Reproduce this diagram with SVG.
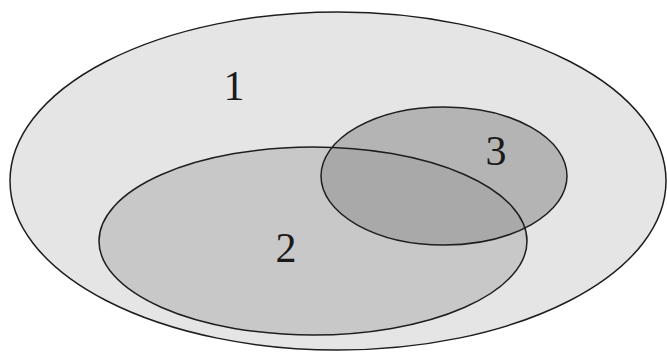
<svg xmlns="http://www.w3.org/2000/svg" width="667" height="352" viewBox="0 0 667 352">
<style>
.outline{fill:none;stroke:#1e1e1e;stroke-width:1.5}
.lbl{font-family:"Liberation Serif",serif;font-size:42px;fill:#1a1a1a;text-anchor:middle}
</style>
<defs>
<clipPath id="clip2"><ellipse cx="313" cy="241" rx="214" ry="94"/></clipPath>
</defs>
<rect width="667" height="352" fill="#ffffff"/>
<g id="set1">
<ellipse cx="338" cy="181" rx="328" ry="169" fill="#e5e5e5"/>
</g>
<g id="set2">
<ellipse cx="313" cy="241" rx="214" ry="94" fill="#c8c8c8"/>
</g>
<g id="set3">
<ellipse cx="444" cy="176" rx="123" ry="69" fill="#b4b4b4"/>
<ellipse cx="444" cy="176" rx="123" ry="69" fill="#a9a9a9" clip-path="url(#clip2)"/>
</g>
<g id="outlines">
<ellipse class="outline" cx="338" cy="181" rx="328" ry="169"/>
<ellipse class="outline" cx="313" cy="241" rx="214" ry="94"/>
<ellipse class="outline" cx="444" cy="176" rx="123" ry="69"/>
</g>
<text class="lbl" x="234" y="100">1</text>
<text class="lbl" x="286" y="262">2</text>
<text class="lbl" x="496" y="165">3</text>
</svg>
